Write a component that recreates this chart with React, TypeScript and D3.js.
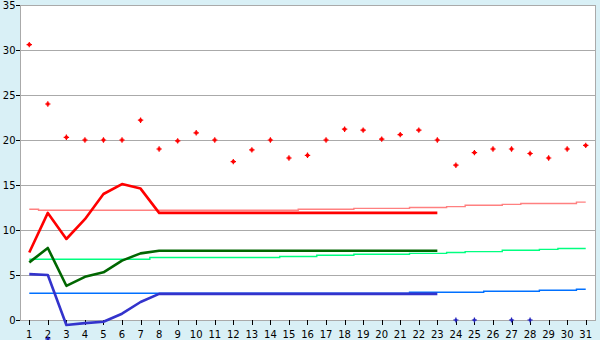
import React from "react";
import * as d3 from "d3";

const days = ["1","2","3","4","5","6","7","8","9","10","11","12","13","14","15","16","17","18","19","20","21","22","23","24","25","26","27","28","29","30","31"];
const yTicks = [0, 5, 10, 15, 20, 25, 30, 35];

const dailyValues = [30.6, 24.0, 20.3, 20.0, 20.0, 20.0, 22.2, 19.0, 19.9, 20.8, 20.0, 17.6, 18.9, 20.0, 18.0, 18.3, 20.0, 21.2, 21.1, 20.1, 20.6, 21.1, 20.0, 17.2, 18.6, 19.0, 19.0, 18.5, 18.0, 19.0, 19.4];

const redLine = [7.5, 11.9, 9.0, 11.2, 14.0, 15.1, 14.6, 11.9, 11.9, 11.9, 11.9, 11.9, 11.9, 11.9, 11.9, 11.9, 11.9, 11.9, 11.9, 11.9, 11.9, 11.9, 11.9];
const greenLine = [6.4, 8.0, 3.8, 4.8, 5.3, 6.6, 7.4, 7.7, 7.7, 7.7, 7.7, 7.7, 7.7, 7.7, 7.7, 7.7, 7.7, 7.7, 7.7, 7.7, 7.7, 7.7, 7.7];
const blueLine = [5.1, 5.0, -0.55, -0.35, -0.2, 0.7, 2.0, 2.9, 2.9, 2.9, 2.9, 2.9, 2.9, 2.9, 2.9, 2.9, 2.9, 2.9, 2.9, 2.9, 2.9, 2.9, 2.9];

const pinkNormal = [12.3, 12.2, 12.2, 12.2, 12.2, 12.2, 12.2, 12.2, 12.2, 12.2, 12.2, 12.2, 12.2, 12.2, 12.2, 12.3, 12.3, 12.3, 12.4, 12.4, 12.4, 12.5, 12.5, 12.6, 12.75, 12.75, 12.85, 12.95, 12.95, 12.95, 13.1];
const greenNormal = [6.75, 6.75, 6.75, 6.75, 6.75, 6.75, 6.75, 6.95, 6.95, 6.95, 6.95, 6.95, 6.95, 6.95, 7.05, 7.05, 7.2, 7.2, 7.3, 7.3, 7.3, 7.4, 7.4, 7.5, 7.6, 7.6, 7.75, 7.75, 7.85, 7.95, 7.95];
const blueNormal = [2.97, 2.97, 2.97, 2.97, 2.97, 2.97, 2.97, 2.97, 2.97, 2.97, 2.97, 2.97, 2.97, 2.97, 2.97, 2.97, 2.97, 2.97, 2.97, 2.97, 2.97, 3.08, 3.08, 3.08, 3.08, 3.19, 3.19, 3.19, 3.3, 3.3, 3.41];

const blueMarkerDays = ["2", "24", "25", "27", "28"];
const blueMarkerValues = [-2.1, 0, 0, 0, 0];

const W = 600, H = 340;
const L = 20, R = 595, T = 5, B = 320;
const FONT = "DejaVu Sans, Verdana, sans-serif";

export default function App() {
  const x = d3.scaleBand<string>().domain(days).range([L, R]).padding(0);
  const cx = (d: string) => (x(d) as number) + x.bandwidth() / 2;
  const y = d3.scaleLinear().domain([0, 35]).range([B, T]);
  const px = (v: number) => Math.round(v) + 0.5;

  const lin = d3.line<number>().x((_, i) => cx(days[i])).y((v) => y(v)).curve(d3.curveLinear);
  const step = d3.line<number>().x((_, i) => cx(days[i])).y((v) => y(v)).curve(d3.curveStep);
  const marker = (r: number) => `M-0.6,${-r}H0.6V-0.6H${r}V0.6H0.6V${r}H-0.6V0.6H${-r}V-0.6H-0.6Z`;

  return (
    <svg width={W} height={H} style={{ position: "fixed", left: 0, top: 0, display: "block" }} xmlns="http://www.w3.org/2000/svg">
      <rect x={0} y={0} width={W} height={H} fill="#d9f0f6" />
      <rect x={L} y={T} width={R - L} height={B - T} fill="#ffffff" />
      {yTicks.map((t) => (
        <line key={"g" + t} x1={L} x2={R} y1={px(y(t))} y2={px(y(t))} stroke="#aaaaaa" strokeWidth={1} />
      ))}
      <line x1={L + 0.5} x2={L + 0.5} y1={T} y2={B + 1} stroke="#aaaaaa" strokeWidth={1} />
      <line x1={R + 0.5} x2={R + 0.5} y1={T} y2={B + 1} stroke="#aaaaaa" strokeWidth={1} />

      {yTicks.map((t) => (
        <g key={"yt" + t}>
          <line x1={16} x2={20} y1={px(y(t))} y2={px(y(t))} stroke="#000" strokeWidth={1} />
          <text x={15.5} y={y(t)} textAnchor="end" dominantBaseline="central" fontFamily={FONT} fontSize={10} fill="#000">{t}</text>
        </g>
      ))}
      {days.map((d) => (
        <g key={"xt" + d}>
          <line x1={px(cx(d))} x2={px(cx(d))} y1={B} y2={B + 5} stroke="#000" strokeWidth={1} />
          <text x={cx(d)} y={337.5} textAnchor="middle" fontFamily={FONT} fontSize={10} fill="#000">{d}</text>
        </g>
      ))}

      <path d={step(pinkNormal) || ""} fill="none" stroke="#ff8080" strokeWidth={1.4} />
      <path d={step(greenNormal) || ""} fill="none" stroke="#00ff80" strokeWidth={1.4} />
      <path d={step(blueNormal) || ""} fill="none" stroke="#0070ff" strokeWidth={1.4} />

      <path d={lin(redLine) || ""} fill="none" stroke="#ff0000" strokeWidth={2.6} strokeLinejoin="round" />
      <path d={lin(greenLine) || ""} fill="none" stroke="#006600" strokeWidth={2.6} strokeLinejoin="round" />
      <path d={lin(blueLine) || ""} fill="none" stroke="#3333cc" strokeWidth={2.6} strokeLinejoin="round" />

      {dailyValues.map((v, i) => (
        <g key={"m" + i} transform={`translate(${cx(days[i])},${y(v)})`} fill="#ff0000">
          <path d={marker(2.7)} />
          <rect x={-1.5} y={-1.5} width={3} height={3} />
        </g>
      ))}
      {blueMarkerValues.map((v, i) => (
        <g key={"b" + i} transform={`translate(${cx(blueMarkerDays[i])},${y(v)})`} fill="#2222bb">
          <path d={marker(2.6)} />
          <rect x={-1.2} y={-1.2} width={2.4} height={2.4} />
        </g>
      ))}
    </svg>
  );
}
